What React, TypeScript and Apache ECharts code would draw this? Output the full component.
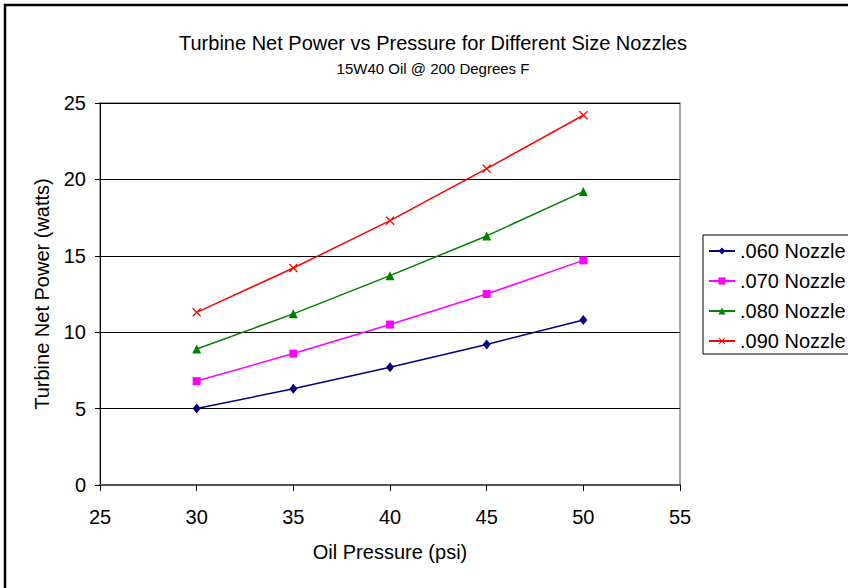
import React, { useEffect, useRef } from "react";
import * as echarts from "echarts";

const pressures = [30, 35, 40, 45, 50];
const nozzle060 = [5.0, 6.3, 7.7, 9.2, 10.8];
const nozzle070 = [6.8, 8.6, 10.5, 12.5, 14.7];
const nozzle080 = [8.9, 11.2, 13.7, 16.3, 19.2];
const nozzle090 = [11.3, 14.2, 17.3, 20.7, 24.2];
const seriesNames = [".060 Nozzle", ".070 Nozzle", ".080 Nozzle", ".090 Nozzle"];

const FONT = "'Liberation Sans', Arial, sans-serif";
const CROSS =
  "path://M0,1L1,0L5,4L9,0L10,1L6,5L10,9L9,10L5,6L1,10L0,9L4,5Z";

export default function App() {
  const ref = useRef<HTMLDivElement>(null);
  useEffect(() => {
    if (!ref.current) return;
    const chart = echarts.init(ref.current, undefined, { renderer: "svg" });
    const mk = (vals: number[]) => pressures.map((p, i) => [p, vals[i]]);
    const defs = [
      { name: seriesNames[0], data: nozzle060, color: "#000080", symbol: "diamond", size: [8, 10] },
      { name: seriesNames[1], data: nozzle070, color: "#FF00FF", symbol: "rect", size: 8 },
      { name: seriesNames[2], data: nozzle080, color: "#008000", symbol: "triangle", size: 9 },
      { name: seriesNames[3], data: nozzle090, color: "#FF0000", symbol: CROSS, size: 9 },
    ];
    chart.setOption({
      animation: false,
      backgroundColor: "#fff",
      textStyle: { fontFamily: FONT },
      title: {
        text: "Turbine Net Power vs Pressure for Different Size Nozzles",
        subtext: "15W40 Oil @ 200 Degrees F",
        left: 433,
        textAlign: "center",
        top: 33,
        itemGap: 8,
        padding: 0,
        textStyle: { fontFamily: FONT, fontSize: 20, fontWeight: "normal", color: "#000" },
        subtextStyle: { fontFamily: FONT, fontSize: 15, color: "#000" },
      },
      legend: {
        orient: "vertical",
        left: 703,
        top: 235,
        itemGap: 10,
        itemWidth: 26,
        itemHeight: 9,
        padding: [6, 14, 3, 5],
        borderColor: "#000",
        borderWidth: 1,
        textStyle: { fontFamily: FONT, fontSize: 20, color: "#000" },
        data: seriesNames,
      },
      grid: { left: 100, top: 103, width: 580, height: 382, show: true, borderColor: "#888", borderWidth: 1.5 },
      xAxis: {
        type: "value",
        min: 25,
        max: 55,
        interval: 5,
        name: "Oil Pressure (psi)",
        nameLocation: "middle",
        nameGap: 57,
        nameTextStyle: { fontFamily: FONT, fontSize: 20, color: "#000" },
        axisLine: { lineStyle: { color: "#555", width: 2 } },
        axisTick: { show: true, length: 6, lineStyle: { color: "#000" } },
        axisLabel: { fontFamily: FONT, fontSize: 20, color: "#000", margin: 22 },
        splitLine: { show: false },
      },
      yAxis: {
        type: "value",
        min: 0,
        max: 25,
        interval: 5,
        name: "Turbine Net Power (watts)",
        nameLocation: "middle",
        nameGap: 48,
        nameTextStyle: { fontFamily: FONT, fontSize: 20, color: "#000" },
        axisLine: { show: true, lineStyle: { color: "#000", width: 1 } },
        axisTick: { show: true, length: 5, lineStyle: { color: "#000" } },
        axisLabel: { fontFamily: FONT, fontSize: 20, color: "#000", margin: 14 },
        splitLine: { show: true, lineStyle: { color: "#000", width: 1 } },
      },
      graphic: [
        {
          type: "polyline",
          shape: { points: [[5, 600], [5, 5], [860, 5]] },
          style: { stroke: "#000", lineWidth: 2.5, fill: null },
          z: 100,
        },
      ],
      series: defs.map((d) => ({
        type: "line",
        name: d.name,
        data: mk(d.data),
        symbol: d.symbol,
        symbolSize: d.size,
        showSymbol: true,
        lineStyle: { color: d.color, width: 1.5 },
        itemStyle: { color: d.color, borderColor: d.color, borderWidth: 0 },
      })),
    });
    return () => chart.dispose();
  }, []);
  return (
    <div
      ref={ref}
      style={{ position: "absolute", left: 0, top: 0, width: 848, height: 588 }}
    />
  );
}
